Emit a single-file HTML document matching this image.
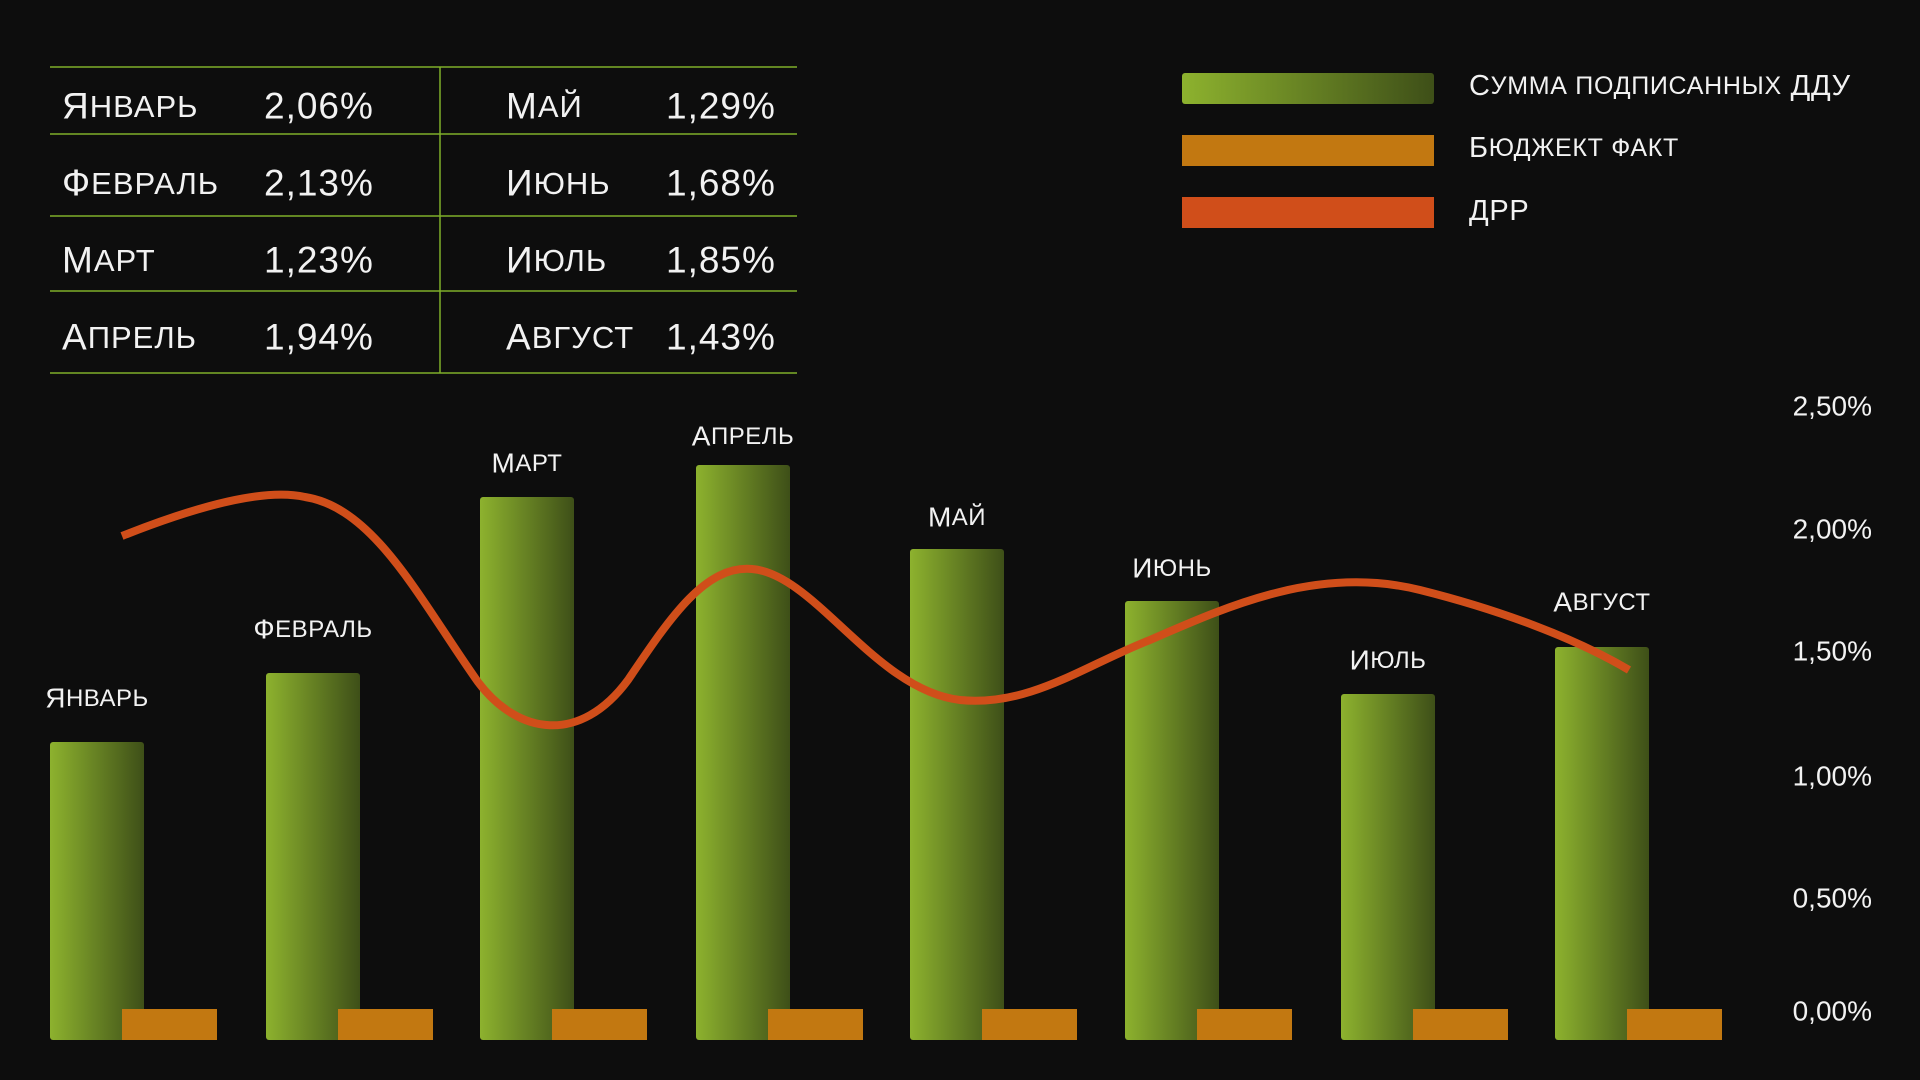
<!DOCTYPE html>
<html><head><meta charset="utf-8"><style>
html,body{margin:0;padding:0;background:#0d0d0d;}
body{width:1920px;height:1080px;overflow:hidden;position:relative;}
svg{position:absolute;left:0;top:0;}
text{font-family:"Liberation Sans",sans-serif;fill:#f2f2f2;}
</style></head><body>
<svg width="1920" height="1080" viewBox="0 0 1920 1080">
<defs>
<linearGradient id="g" x1="0" x2="1" y1="0" y2="0">
<stop offset="0" stop-color="#8db22e"/><stop offset="1" stop-color="#3e4f18"/>
</linearGradient>
</defs>
<rect width="1920" height="1080" fill="#0d0d0d"/>
<g stroke="#7fae2a" stroke-width="1.5">
<line x1="50" y1="67" x2="797" y2="67"/>
<line x1="50" y1="134" x2="797" y2="134"/>
<line x1="50" y1="216" x2="797" y2="216"/>
<line x1="50" y1="291" x2="797" y2="291"/>
<line x1="50" y1="373" x2="797" y2="373"/>
<line x1="440" y1="67" x2="440" y2="373"/>
</g>
<g font-size="37" dominant-baseline="central" letter-spacing="1">
<text x="62" y="106">Я<tspan font-size="31">НВАРЬ</tspan></text><text x="264" y="106">2,06%</text>
<text x="62" y="183">Ф<tspan font-size="31">ЕВРАЛЬ</tspan></text><text x="264" y="183">2,13%</text>
<text x="62" y="260">М<tspan font-size="31">АРТ</tspan></text><text x="264" y="260">1,23%</text>
<text x="62" y="337">А<tspan font-size="31">ПРЕЛЬ</tspan></text><text x="264" y="337">1,94%</text>
<text x="506" y="106">М<tspan font-size="31">АЙ</tspan></text><text x="666" y="106">1,29%</text>
<text x="506" y="183">И<tspan font-size="31">ЮНЬ</tspan></text><text x="666" y="183">1,68%</text>
<text x="506" y="260">И<tspan font-size="31">ЮЛЬ</tspan></text><text x="666" y="260">1,85%</text>
<text x="506" y="337">А<tspan font-size="31">ВГУСТ</tspan></text><text x="666" y="337">1,43%</text>
</g>
<rect x="1182" y="73" width="252" height="31" rx="3" fill="url(#g)"/>
<rect x="1182" y="135" width="252" height="31" fill="#c27811"/>
<rect x="1182" y="197" width="252" height="31" fill="#d04e1a"/>
<g font-size="29" dominant-baseline="central" letter-spacing="0.7">
<text x="1469" y="86">С<tspan font-size="25">УММА ПОДПИСАННЫХ</tspan> ДДУ</text>
<text x="1469" y="148">Б<tspan font-size="25">ЮДЖЕКТ ФАКТ</tspan></text>
<text x="1469" y="211">ДРР</text>
</g>
<g font-size="28" text-anchor="end" dominant-baseline="central">
<text x="1872" y="406">2,50%</text>
<text x="1872" y="529">2,00%</text>
<text x="1872" y="651">1,50%</text>
<text x="1872" y="776">1,00%</text>
<text x="1872" y="898">0,50%</text>
<text x="1872" y="1011">0,00%</text>
</g>
<g fill="url(#g)">
<rect x="50" y="742" width="94" height="298" rx="3"/>
<rect x="266" y="673" width="94" height="367" rx="3"/>
<rect x="480" y="497" width="94" height="543" rx="3"/>
<rect x="696" y="465" width="94" height="575" rx="3"/>
<rect x="910" y="549" width="94" height="491" rx="3"/>
<rect x="1125" y="601" width="94" height="439" rx="3"/>
<rect x="1341" y="694" width="94" height="346" rx="3"/>
<rect x="1555" y="647" width="94" height="393" rx="3"/>
</g>
<g fill="#c27811">
<rect x="122" y="1009" width="95" height="31"/>
<rect x="338" y="1009" width="95" height="31"/>
<rect x="552" y="1009" width="95" height="31"/>
<rect x="768" y="1009" width="95" height="31"/>
<rect x="982" y="1009" width="95" height="31"/>
<rect x="1197" y="1009" width="95" height="31"/>
<rect x="1413" y="1009" width="95" height="31"/>
<rect x="1627" y="1009" width="95" height="31"/>
</g>
<g font-size="28" text-anchor="middle" dominant-baseline="central" letter-spacing="0.5">
<text x="97" y="698">Я<tspan font-size="24">НВАРЬ</tspan></text>
<text x="313" y="629">Ф<tspan font-size="24">ЕВРАЛЬ</tspan></text>
<text x="527" y="463">М<tspan font-size="24">АРТ</tspan></text>
<text x="743" y="436">А<tspan font-size="24">ПРЕЛЬ</tspan></text>
<text x="957" y="517">М<tspan font-size="24">АЙ</tspan></text>
<text x="1172" y="568">И<tspan font-size="24">ЮНЬ</tspan></text>
<text x="1388" y="660">И<tspan font-size="24">ЮЛЬ</tspan></text>
<text x="1602" y="602">А<tspan font-size="24">ВГУСТ</tspan></text>
</g>
<path d="M122,536 C200,505 265,488 305,497 C375,508 420,600 478,682 C518,735 580,745 628,680 C670,618 705,565 752,569 C815,574 875,690 960,700 C1030,707 1085,665 1150,640 C1230,605 1320,565 1420,590 C1500,610 1575,638 1629,670" fill="none" stroke="#d04e1a" stroke-width="8"/>
</svg>
</body></html>
